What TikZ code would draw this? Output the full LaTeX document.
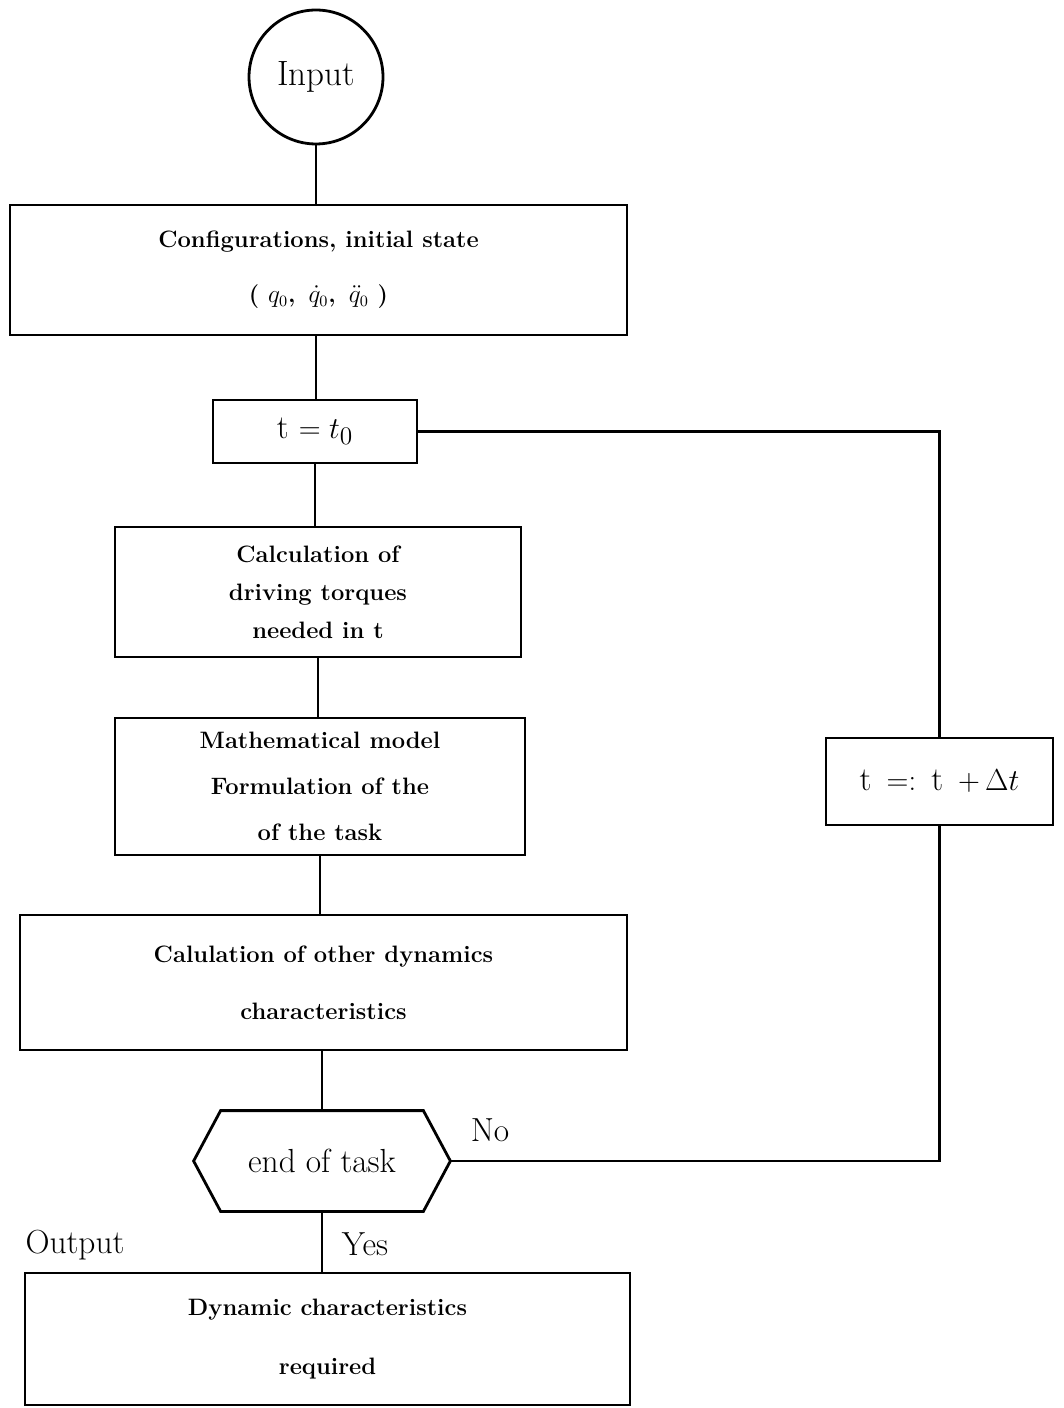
\documentclass[tikz,border=0pt]{standalone}
\usepackage{tikz}
\begin{document}
\begin{tikzpicture}[x=0.02cm,y=-0.02cm,line width=1.6pt,
 box/.style={draw,font=\fontsize{13.5}{16.5}\selectfont\bfseries,align=center,inner sep=0pt},
 term/.style={draw,circle,minimum size=2.68cm,inner sep=0pt,font=\fontsize{20}{24}\selectfont},
 decide/.style={minimum width=5.08cm,minimum height=1.96cm,inner sep=0pt,font=\fontsize{19}{23}\selectfont},
 lbl/.style={font=\fontsize{19}{23}\selectfont}]
\useasboundingbox (0,0) rectangle (1063,1408);
\node[term] (input) at (316,77) {Input};
\node[box,minimum width=12.34cm,minimum height=2.6cm] (cfg) at (318.5,270)
  {Configurations, initial state\\[0.52cm] ( $q_0$, \,$\dot q_0$, \,$\ddot q_0$ )};
\node[box,font=\fontsize{19}{23}\selectfont,minimum width=4.08cm,minimum height=1.26cm] (tzero) at (315,431.5) {t $= t_0$};
\node[box,minimum width=8.12cm,minimum height=2.6cm] (torq) at (318,592)
  {Calculation of\\[0.18cm] driving torques\\[0.18cm] needed in t};
\node[box,minimum width=8.2cm,minimum height=2.74cm] (model) at (320,786.5)
  {Mathematical model\\[0.34cm] Formulation of the\\[0.34cm] of the task};
\node[box,minimum width=12.14cm,minimum height=2.7cm] (other) at (323.5,982.5)
  {Calulation of other dynamics\\[0.56cm] characteristics};
\node[decide] (eot) at (322,1161) {end of task};
\draw (eot.west) -- ([xshift=0.54cm]eot.north west) -- ([xshift=-0.54cm]eot.north east)
  -- (eot.east) -- ([xshift=-0.54cm]eot.south east) -- ([xshift=0.54cm]eot.south west) -- cycle;
\node[box,minimum width=12.1cm,minimum height=2.64cm] (result) at (327.5,1339)
  {Dynamic characteristics\\[0.6cm] required};
\node[box,font=\fontsize{19}{23}\selectfont,minimum width=4.54cm,minimum height=1.74cm] (step) at (939.5,781.5)
  {t $\,=:\,$ t $\,+\,\Delta t$};
\node[lbl] (no) at (490,1130) {No};
\node[lbl] (yes) at (365,1244) {Yes};
\node[lbl] (outp) at (75,1245) {Output};
% main column
\draw (input.south) -- (input.south |- cfg.north);
\draw (cfg.south -| input) -- (input |- tzero.north);
\draw (tzero.south) -- (tzero.south |- torq.north);
\draw (torq.south) -- (torq.south |- model.north);
\draw (model.south) -- (model.south |- other.north);
\draw (eot.north |- other.south) -- (eot.north);
\draw (eot.south) -- (eot.south |- result.north);
% time loop
\draw (tzero.east) -| (step.north);
\draw (step.south) |- (eot.east);
\end{tikzpicture}
\end{document}
